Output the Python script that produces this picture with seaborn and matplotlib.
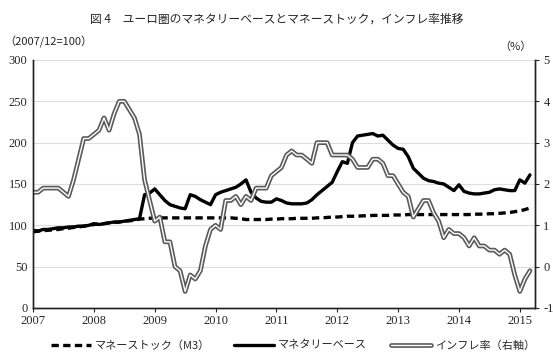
import numpy as np
import pandas as pd
import matplotlib
matplotlib.use("Agg")
import matplotlib.pyplot as plt
import matplotlib.patheffects as pe
import seaborn as sns

# ---- data (monthly, Jan 2007 .. Mar 2015) ----
money_base = [94, 93, 95, 95, 96, 97, 97, 98, 98, 99, 99, 100,
              102, 101, 102, 103, 104, 104, 105, 106, 107, 108, 137, 139,
              144, 137, 130, 125, 123, 121, 120, 137, 135, 131, 128, 125,
              137, 140, 142, 144, 146, 150, 155, 140, 133, 129, 128, 128,
              132, 130, 127, 126, 126, 126, 127, 131, 137, 142, 147, 152,
              165, 177, 175, 200, 208, 209, 210, 211, 208, 209, 203, 197,
              193, 192, 183, 169, 163, 157, 154, 153, 151, 150, 146, 142,
              149, 141, 139, 138, 138, 139, 140, 143, 144, 143, 142, 142,
              155, 151, 161]
money_stock = [92, 93, 93.5, 94, 94.5, 95, 96, 96.5, 97.5, 98, 99, 100,
               101, 101.5, 102, 103, 103.5, 104, 105, 105.5, 106, 107.5, 108, 108.5,
               109, 109, 109, 109, 109, 109, 109, 109, 109, 109, 109, 109,
               109, 109, 109, 109, 108.5, 108, 107, 107, 107, 107, 107, 107.5,
               107.5, 108, 108, 108, 108.5, 108.5, 108.5, 108.5, 109, 109, 109.5, 110,
               110, 110.5, 111, 111, 111, 111.5, 111.5, 112, 112, 112, 112, 112.5,
               112.5, 112.5, 113, 113, 113, 113, 113, 113, 113, 113, 113, 113,
               113, 113, 113, 113.5, 113.5, 113.5, 114, 114, 114.5, 115, 115.5, 116.5,
               117.5, 119, 121]
inflation = [1.8, 1.8, 1.9, 1.9, 1.9, 1.9, 1.8, 1.7, 2.1, 2.6, 3.1, 3.1,
             3.2, 3.3, 3.6, 3.3, 3.7, 4.0, 4.0, 3.8, 3.6, 3.2, 2.1, 1.6,
             1.1, 1.2, 0.6, 0.6, 0.0, -0.1, -0.6, -0.2, -0.3, -0.1, 0.5, 0.9,
             1.0, 0.9, 1.6, 1.6, 1.7, 1.5, 1.7, 1.6, 1.9, 1.9, 1.9, 2.2,
             2.3, 2.4, 2.7, 2.8, 2.7, 2.7, 2.6, 2.5, 3.0, 3.0, 3.0, 2.7,
             2.7, 2.7, 2.7, 2.6, 2.4, 2.4, 2.4, 2.6, 2.6, 2.5, 2.2, 2.2,
             2.0, 1.8, 1.7, 1.2, 1.4, 1.6, 1.6, 1.3, 1.1, 0.7, 0.9, 0.8,
             0.8, 0.7, 0.5, 0.7, 0.5, 0.5, 0.4, 0.4, 0.3, 0.4, 0.3, -0.2,
             -0.6, -0.3, -0.1]
year_labels = ["2007", "2008", "2009", "2010", "2011", "2012", "2013", "2014", "2015"]

title = "図 4　ユーロ圏のマネタリーベースとマネーストック，インフレ率推移"
lbl_stock = "マネーストック（M3）"
lbl_base = "マネタリーベース"
lbl_infl = "インフレ率（右軸）"

df = pd.DataFrame({
    "month": np.arange(len(money_base)),
    "base": money_base,
    "stock": money_stock,
    "infl": inflation,
})

sns.set_theme(style="white")
plt.rcParams["font.serif"] = ["Liberation Serif", "DejaVu Serif"]
plt.rcParams["font.family"] = ["serif"]
plt.rcParams["axes.unicode_minus"] = False
cjk = ["Noto Sans CJK JP", "DejaVu Sans"]

fig = plt.figure(figsize=(5.53, 3.57), dpi=100)
ax = fig.add_axes([0.0597, 0.1373, 0.9078, 0.6947])
ax2 = ax.twinx()

sns.lineplot(data=df, x="month", y="stock", ax=ax, color="black", lw=2.4,
             linestyle=(0, (2.2, 1.3)), label=lbl_stock, legend=False)
sns.lineplot(data=df, x="month", y="base", ax=ax, color="black", lw=2.4,
             label=lbl_base, legend=False)
sns.lineplot(data=df, x="month", y="infl", ax=ax2, color="white", lw=1.0,
             label=lbl_infl, legend=False,
             path_effects=[pe.Stroke(linewidth=3.4, foreground="#5a5a5a"), pe.Normal()])

ax.set_xlim(0, 99)
ax.set_ylim(0, 300)
ax2.set_ylim(-1, 5)
ax.set_yticks(range(0, 301, 50))
ax2.set_yticks(range(-1, 6))
ax.set_xticks(range(0, 97, 12))
ax.set_xticklabels(year_labels)
ax.set_xlabel("")
ax.set_ylabel("")
ax2.set_ylabel("")

ax.yaxis.grid(True, color="#dddddd", lw=0.8)
ax.set_axisbelow(True)
for a in (ax, ax2):
    a.spines["top"].set_visible(False)
    for s in ("left", "right", "bottom"):
        a.spines[s].set_color("#222222")
        a.spines[s].set_linewidth(1.0)
ax.tick_params(axis="y", length=0, labelsize=9, pad=4)
ax.tick_params(axis="x", length=3, width=0.8, direction="out", bottom=True, labelsize=9, pad=2)
ax2.tick_params(axis="y", length=3, width=0.8, direction="out", right=True, labelsize=9, pad=3)
for lab in ax.get_xticklabels() + ax.get_yticklabels() + ax2.get_yticklabels():
    lab.set_family(["Liberation Serif", "DejaVu Serif"])

fig.text(0.5, 0.945, title, ha="center", va="center", fontsize=8.5, family=cjk)
fig.text(0.008, 0.882, "（2007/12=100）", ha="left", va="center", fontsize=8, family=cjk)
fig.text(0.903, 0.868, "（%）", ha="left", va="center", fontsize=8, family=cjk)

h1, l1 = ax.get_legend_handles_labels()
h2, l2 = ax2.get_legend_handles_labels()
leg = fig.legend(h1 + h2, l1 + l2, loc="center", bbox_to_anchor=(0.53, 0.033), ncol=3,
                 frameon=False, handlelength=3.6, columnspacing=2.2, handletextpad=0.3,
                 prop={"family": cjk, "size": 8})

fig.savefig("out.png", dpi=100)
